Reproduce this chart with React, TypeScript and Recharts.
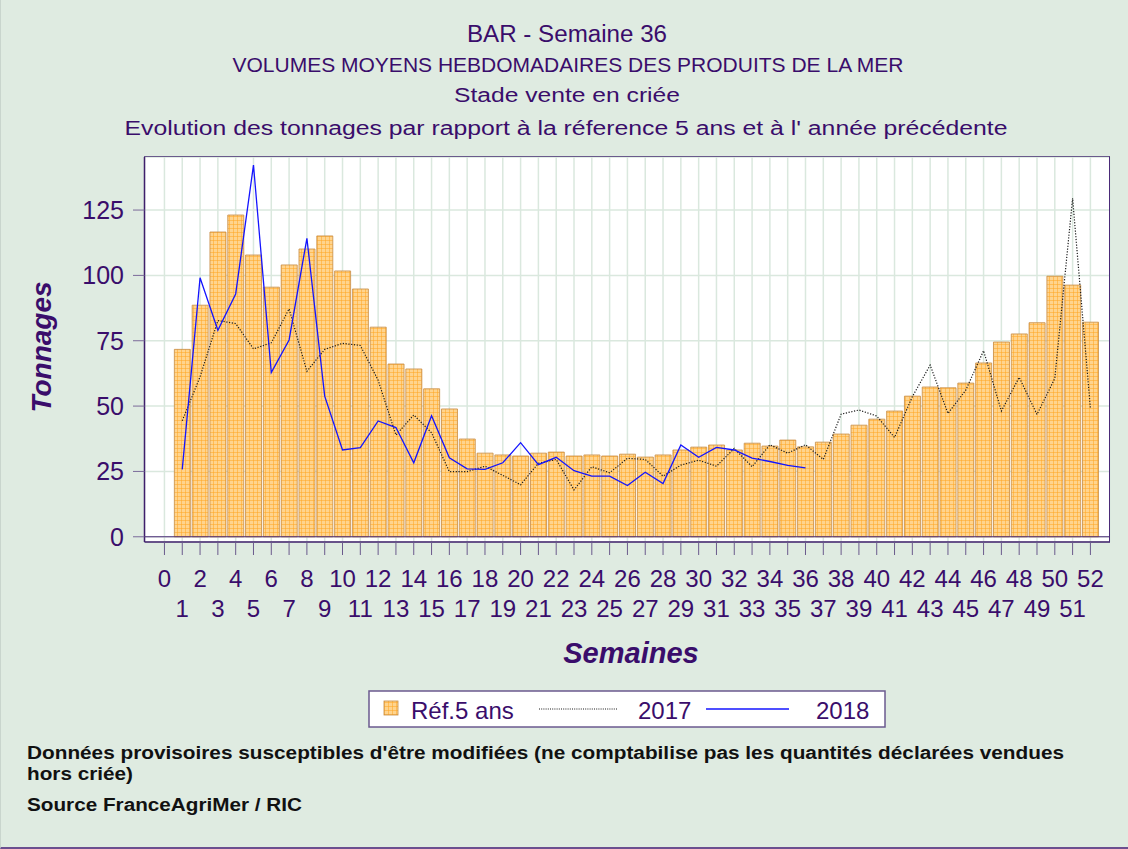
import React from "react";
import { ComposedChart, Bar, Line, XAxis, YAxis, CartesianGrid, ReferenceLine } from "recharts";

// semaines 1..52
const weeks = Array.from({ length: 52 }, (_, i) => i + 1);

// moyenne de référence 5 ans (t)
const ref5 = [
  71.7, 88.6, 116.6, 123.1, 107.8, 95.5, 104.0, 110.1, 115.1, 101.7,
  94.8, 80.2, 66.1, 64.2, 56.6, 48.9, 37.4, 32.0, 31.3, 30.9,
  32.0, 32.4, 30.9, 31.3, 30.9, 31.6, 30.5, 31.3, 33.2, 34.3,
  35.1, 33.2, 35.8, 34.7, 37.0, 34.4, 36.2, 39.3, 42.7, 45.0,
  48.1, 53.8, 57.3, 57.0, 58.8, 66.5, 74.5, 77.6, 81.9, 99.7,
  96.3, 82.1,
];

const y2017 = [
  44.4, 61.2, 82.7, 81.6, 71.9, 74.2, 87.2, 63.3, 71.7, 74.0,
  73.2, 59.9, 38.9, 46.6, 39.8, 24.9, 24.9, 27.0, 23.5, 19.9,
  28.1, 29.6, 17.9, 26.8, 24.5, 30.0, 29.6, 23.2, 27.4, 29.3,
  27.0, 33.8, 26.8, 35.2, 32.0, 35.2, 29.6, 46.9, 48.5, 46.2,
  38.0, 53.6, 65.7, 47.2, 56.1, 71.2, 48.1, 61.0, 46.8, 60.6,
  129.5, 49.1,
];

// 2018 : données jusqu'à la semaine 36
const y2018 = [
  25.8, 99.1, 79.0, 92.9, 142.2, 62.8, 75.3, 114.2, 53.8, 33.2,
  34.1, 44.3, 41.8, 28.3, 46.3, 30.2, 26.0, 25.8, 28.3, 36.0,
  27.6, 30.4, 25.3, 23.2, 23.2, 19.6, 24.7, 20.4, 35.1, 30.4,
  34.2, 33.2, 30.1, 28.8, 27.3, 26.4,
];

const xTicks = Array.from({ length: 53 }, (_, i) => i);
const yTicks = [0, 25, 50, 75, 100, 125];

const titleLines = [
  "BAR - Semaine 36",
  "VOLUMES MOYENS HEBDOMADAIRES DES PRODUITS DE LA MER",
  "Stade vente en criée",
  "Evolution des tonnages par rapport à la réference 5 ans et à l' année précédente",
];

const noteLines = [
  "Données provisoires susceptibles d'être modifiées (ne comptabilise pas les quantités déclarées vendues",
  "hors criée)",
  "Source FranceAgriMer / RIC",
];

const legendLabels = ["Réf.5 ans", "2017", "2018"];

// attention : pas de clé "ref" dans les lignes, recharts l'étale sur les <path>
const data = weeks.map((w, i) => ({
  week: w,
  ref5: ref5[i],
  y2017: y2017[i],
  y2018: i < y2018.length ? y2018[i] : null,
}));

const PURPLE = "#3a0d6b";
const BG = "#dfebe1";
const FONT = "'Liberation Sans', Arial, sans-serif";

// étiquettes sur deux rangs : paires en haut, impaires en bas
const renderWeekTick = (props: any) => {
  const { x, y, payload } = props;
  const v = payload.value as number;
  const odd = v % 2 === 1;
  return (
    <text key={`wt-${v}`} x={x} y={y + (odd ? 62 : 32)} textAnchor="middle" fill={PURPLE} fontSize={24} fontFamily={FONT}>
      {v}
    </text>
  );
};

export default function App() {
  return (
    <div style={{
      position: "relative", width: 1128, height: 849, background: BG, fontFamily: FONT,
      overflow: "hidden", boxSizing: "border-box", borderBottom: "2px solid #6b4f8f", borderLeft: "1px solid #c9d5cd"
    }}>
      <style>{"body{margin:0}"}</style>

      {/* titres */}
      <svg width={1128} height={145} style={{ position: "absolute", left: 0, top: 0 }}>
        <text x={566} y={42} textAnchor="middle" fill={PURPLE} fontSize={23} textLength={200} lengthAdjust="spacingAndGlyphs">{titleLines[0]}</text>
        <text x={567} y={72} textAnchor="middle" fill={PURPLE} fontSize={21} textLength={671} lengthAdjust="spacingAndGlyphs">{titleLines[1]}</text>
        <text x={566} y={102} textAnchor="middle" fill={PURPLE} fontSize={20} textLength={226} lengthAdjust="spacingAndGlyphs">{titleLines[2]}</text>
        <text x={565} y={135} textAnchor="middle" fill={PURPLE} fontSize={20} textLength={883} lengthAdjust="spacingAndGlyphs">{titleLines[3]}</text>
      </svg>

      <div style={{ position: "absolute", left: 0, top: 0 }}>
        <ComposedChart
          width={1128}
          height={849}
          data={data}
          margin={{ top: 157, right: 19, bottom: 187, left: 73.5 }}
        >
          <defs>
            <pattern id="orangeGrid" width={4} height={4} patternUnits="userSpaceOnUse">
              <rect width={4} height={4} fill="#ffd48e" />
              <path d="M0 0 H4 M0 0 V4" stroke="#ffa41f" strokeWidth={1} />
            </pattern>
          </defs>
          <CartesianGrid stroke="#dae8de" strokeWidth={1.5} fill="#ffffff" />
          <XAxis
            dataKey="week"
            type="number"
            domain={[-1.12, 53.1]}
            allowDataOverflow
            ticks={xTicks}
            interval={0}
            height={120}
            tickSize={13}
            tickMargin={0}
            tick={renderWeekTick}
            tickLine={{ stroke: "#6a5a8c" }}
            axisLine={{ stroke: "#3f1f6b", strokeWidth: 1.5 }}
          />
          <YAxis
            type="number"
            domain={[-2, 145.3]}
            allowDataOverflow
            ticks={yTicks}
            width={70}
            tickSize={11.5}
            tickMargin={9}
            tick={{ fill: PURPLE, fontSize: 25, fontFamily: FONT }}
            tickLine={{ stroke: "#7a6a9a" }}
            axisLine={{ stroke: "#3f1f6b", strokeWidth: 1.5 }}
          />
          <ReferenceLine y={0} stroke="#4a2a78" strokeWidth={1} />
          <Bar dataKey="ref5" name={legendLabels[0]} fill="url(#orangeGrid)" stroke="#c68c44" strokeWidth={0.8} barSize={16} isAnimationActive={false} />
          <Line dataKey="y2017" name={legendLabels[1]} type="linear" stroke="#1a1a1a" strokeWidth={1.2} strokeDasharray="1.2 1.6" dot={false} activeDot={false} isAnimationActive={false} />
          <Line dataKey="y2018" name={legendLabels[2]} type="linear" stroke="#1414ff" strokeWidth={1.3} dot={false} activeDot={false} isAnimationActive={false} />
        </ComposedChart>
      </div>

      {/* cadre de la zone de tracé */}
      <div style={{
        position: "absolute", left: 143, top: 156, width: 966, height: 386, boxSizing: "border-box",
        borderTop: "1.5px solid #6a5a8c", borderRight: "1.5px solid #4a2a78", pointerEvents: "none"
      }} />

      {/* titres des axes */}
      <svg width={1128} height={849} style={{ position: "absolute", left: 0, top: 0, pointerEvents: "none" }}>
        <text transform="translate(50,347) rotate(-90)" textAnchor="middle" fill={PURPLE}
          fontSize={28} fontWeight="bold" fontStyle="italic">Tonnages</text>
        <text x={630} y={663} textAnchor="middle" fill={PURPLE}
          fontSize={29} fontWeight="bold" fontStyle="italic">Semaines</text>
      </svg>

      {/* légende */}
      <svg width={518} height={38} style={{ position: "absolute", left: 367, top: 690 }}>
        <defs>
          <pattern id="orangeGridL" width={4} height={4} patternUnits="userSpaceOnUse">
            <rect width={4} height={4} fill="#ffd48e" />
            <path d="M0 0 H4 M0 0 V4" stroke="#ffa41f" strokeWidth={1} />
          </pattern>
        </defs>
        <rect x={1} y={1} width={516} height={36} fill="#ffffff" stroke="#6b5a8f" strokeWidth={1.5} />
        <rect x={16} y={11} width={14} height={14} fill="url(#orangeGridL)" stroke="#c68c44" strokeWidth={0.8} />
        <text x={43} y={29} fill={PURPLE} fontSize={24}>{legendLabels[0]}</text>
        <line x1={171} x2={250} y1={19} y2={19} stroke="#1a1a1a" strokeWidth={1} strokeDasharray="1 1.2" />
        <text x={270} y={29} fill={PURPLE} fontSize={24}>{legendLabels[1]}</text>
        <line x1={338} x2={421} y1={19} y2={19} stroke="#1414ff" strokeWidth={1.3} />
        <text x={448} y={29} fill={PURPLE} fontSize={24}>{legendLabels[2]}</text>
      </svg>

      {/* notes */}
      <svg width={1128} height={80} style={{ position: "absolute", left: 0, top: 738 }}>
        <text x={26} y={21} fill="#111" fontSize={18} fontWeight="bold" textLength={1037} lengthAdjust="spacingAndGlyphs">{noteLines[0]}</text>
        <text x={26} y={42} fill="#111" fontSize={18} fontWeight="bold" textLength={106} lengthAdjust="spacingAndGlyphs">{noteLines[1]}</text>
        <text x={26} y={73} fill="#111" fontSize={18} fontWeight="bold" textLength={275} lengthAdjust="spacingAndGlyphs">{noteLines[2]}</text>
      </svg>
    </div>
  );
}
